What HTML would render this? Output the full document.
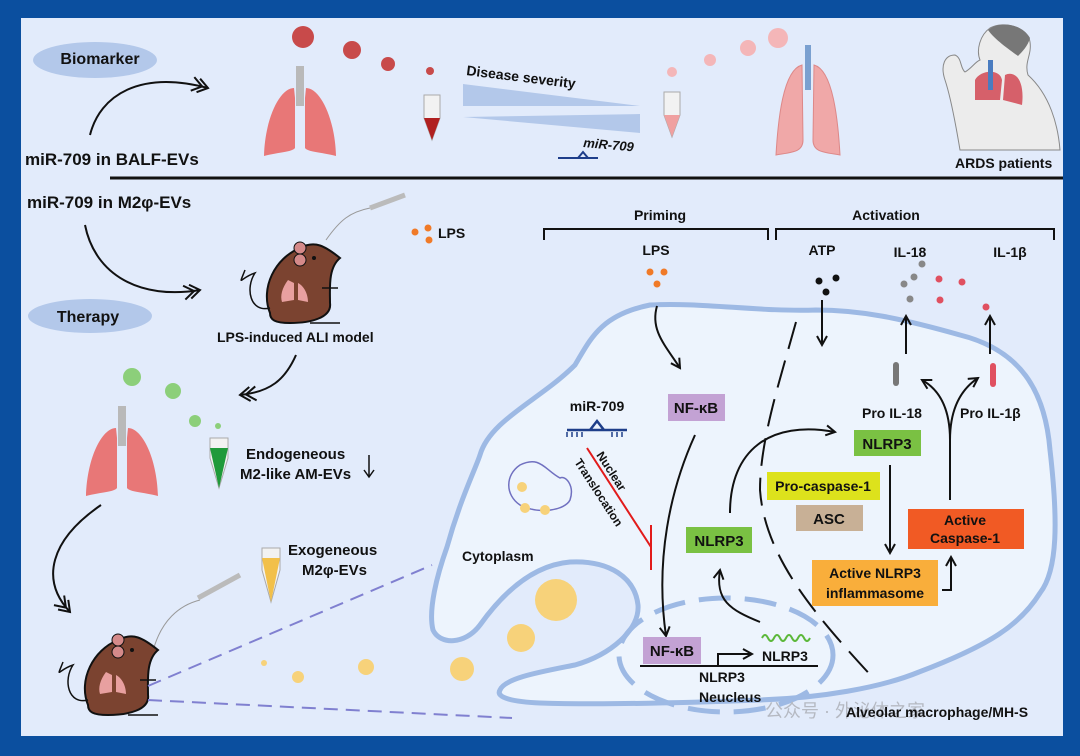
<!DOCTYPE html>
<html><head><meta charset="utf-8"><style>
html,body{margin:0;padding:0;background:#0b4f9f;}
svg{display:block;}
text{font-family:"Liberation Sans","Noto Sans CJK SC",sans-serif;font-weight:bold;fill:#111;}
</style></head><body>
<svg width="1080" height="756" viewBox="0 0 1080 756" xmlns="http://www.w3.org/2000/svg">
<defs>
<marker id="ah" viewBox="0 0 12 12" refX="10" refY="6" markerWidth="12" markerHeight="12" markerUnits="userSpaceOnUse" orient="auto"><path d="M1,1 L10,6 L1,11" fill="none" stroke="#111" stroke-width="2"/></marker>
<marker id="dh" viewBox="0 0 20 16" refX="18" refY="8" markerWidth="20" markerHeight="16" markerUnits="userSpaceOnUse" orient="auto"><path d="M2,1 L12,8 L2,15 M8,1 L18,8 L8,15" fill="none" stroke="#111" stroke-width="2"/></marker>
<g id="lung">
<rect x="-4" y="-42" width="8" height="40" fill="#b9b9b9"/>
<path d="M-6,-20 C-20,-20 -35,10 -36,48 C-20,44 -8,44 -5,40 L-5,-10 Z" fill="#e87777"/>
<path d="M6,-20 C20,-20 35,10 36,48 C20,44 8,44 5,40 L5,-10 Z" fill="#e87777"/>
</g>
<g id="mouse">
<path d="M-30,35 C-40,10 -25,-20 0,-30 C15,-38 25,-32 40,-20 C28,-10 30,10 30,25 C32,40 10,45 -10,45 C-25,45 -30,42 -30,35 Z" fill="#7b4330" stroke="#111" stroke-width="2"/>
<circle cx="0" cy="-30" r="6" fill="#d58a8a" stroke="#111"/><circle cx="0" cy="-18" r="6" fill="#d58a8a" stroke="#111"/>
<circle cx="14" cy="-20" r="2" fill="#111"/>
<path d="M-30,30 C-50,35 -55,10 -45,-5 C-60,0 -62,10 -55,-8" fill="none" stroke="#111" stroke-width="1.5"/>
<path d="M-12,2 C-18,10 -20,18 -18,24 L-6,22 L-6,5 Z M-2,5 L-2,22 L8,24 C8,16 4,8 -2,5 Z" fill="#e8a0a0"/>
<line x1="22" y1="10" x2="38" y2="10" stroke="#111" stroke-width="1.5"/>
<line x1="10" y1="45" x2="40" y2="45" stroke="#111" stroke-width="1.5"/>
</g>
</defs>
<rect x="21" y="18" width="1042" height="718" fill="#e2ebfb"/>

<!-- top section -->
<ellipse cx="95" cy="60" rx="62" ry="18" fill="#b3c8ea"/>
<text x="100" y="64" font-size="16" text-anchor="middle">Biomarker</text>
<path d="M90,135 C100,95 140,70 208,88" fill="none" stroke="#111" stroke-width="2" marker-end="url(#dh)"/>
<text x="25" y="165" font-size="17">miR-709 in BALF-EVs</text>
<line x1="110" y1="178" x2="1063" y2="178" stroke="#111" stroke-width="3"/>
<text x="27" y="208" font-size="17">miR-709 in M2φ-EVs</text>
<use href="#lung" x="300" y="108"/>
<circle cx="303" cy="37" r="11" fill="#c84a4a"/><circle cx="352" cy="50" r="9" fill="#c84a4a"/><circle cx="388" cy="64" r="7" fill="#c84a4a"/><circle cx="430" cy="71" r="4" fill="#c84a4a"/>
<path d="M424,95 L440,95 L440,118 L432,140 L424,118 Z" fill="#f2f2f2" stroke="#aaa"/><path d="M424,118 L440,118 L432,140 Z" fill="#b02020"/>
<text x="466" y="75" font-size="14" transform="rotate(7 466 75)">Disease severity</text>
<path d="M463,84 L463,106 L640,106 Z" fill="#b3c8ea"/>
<path d="M463,117 L640,114 L640,133 Z" fill="#b3c8ea"/>
<text x="583" y="147" font-size="13" font-style="italic" transform="rotate(5 583 147)">miR-709</text>
<path d="M558,158 L598,158 M578,158 L583,152 L588,158" stroke="#1e3e8a" stroke-width="2" fill="none"/>
<circle cx="672" cy="72" r="5" fill="#f4b6b8"/><circle cx="710" cy="60" r="6" fill="#f4b6b8"/><circle cx="748" cy="48" r="8" fill="#f4b6b8"/><circle cx="778" cy="38" r="10" fill="#f4b6b8"/>
<path d="M664,92 L680,92 L680,115 L672,137 L664,115 Z" fill="#f2f2f2" stroke="#aaa"/><path d="M664,115 L680,115 L672,137 Z" fill="#f0a0a0"/>
<g transform="translate(808,110)"><rect x="-3" y="-65" width="6" height="45" fill="#7aa0d0"/><path d="M-6,-45 C-25,-40 -30,10 -32,45 C-15,42 -5,42 -5,30 Z" fill="#f0a8a8" stroke="#d88"/><path d="M6,-45 C25,-40 30,10 32,45 C15,42 5,42 5,30 Z" fill="#f0a8a8" stroke="#d88"/></g>
<!-- person -->
<path d="M960,150 C955,120 950,95 945,80 C940,65 945,55 955,55 C962,58 960,68 965,72 C972,68 975,62 980,60 C976,50 980,35 990,28 C1005,20 1028,28 1030,42 C1032,55 1024,62 1028,75 C1050,95 1058,125 1060,150 Z" fill="#ececec" stroke="#888"/>
<path d="M988,30 C1000,20 1022,24 1030,38 C1028,46 1022,52 1018,56 C1010,50 995,40 988,30 Z" fill="#777"/>
<path d="M975,80 C980,70 1000,68 1002,80 L1000,100 L975,100 Z M1005,75 C1015,70 1025,80 1022,105 L1003,100 Z" fill="#d6606a"/>
<rect x="988" y="60" width="5" height="30" fill="#4a7cc0"/>
<text x="955" y="168" font-size="14">ARDS patients</text>

<!-- bottom left -->
<path d="M85,225 C95,275 140,300 200,290" fill="none" stroke="#111" stroke-width="2" marker-end="url(#dh)"/>
<ellipse cx="90" cy="316" rx="62" ry="17" fill="#b3c8ea"/>
<text x="88" y="322" font-size="16" text-anchor="middle">Therapy</text>
<use href="#mouse" x="300" y="278"/>
<path d="M326,240 C340,220 350,212 370,208" fill="none" stroke="#999"/><path d="M370,208 L405,195" stroke="#bbb" stroke-width="5"/>
<circle cx="415" cy="232" r="3.5" fill="#f07a28"/><circle cx="428" cy="228" r="3.5" fill="#f07a28"/><circle cx="429" cy="240" r="3.5" fill="#f07a28"/>
<text x="438" y="238" font-size="14">LPS</text>
<text x="217" y="342" font-size="14">LPS-induced ALI model</text>
<path d="M296,355 C285,380 270,392 240,395" fill="none" stroke="#111" stroke-width="2" marker-end="url(#dh)"/>
<circle cx="132" cy="377" r="9" fill="#8ccf7a"/><circle cx="173" cy="391" r="8" fill="#8ccf7a"/><circle cx="195" cy="421" r="6" fill="#8ccf7a"/><circle cx="218" cy="426" r="3" fill="#8ccf7a"/>
<use href="#lung" x="122" y="448"/>
<path d="M210,438 L228,438 L228,458 L219,488 L210,458 Z" fill="#f2f2f2" stroke="#aaa"/><path d="M210,448 L228,448 L219,488 Z" fill="#1f9a3a"/>
<text x="246" y="459" font-size="15">Endogeneous</text>
<text x="240" y="479" font-size="15">M2-like AM-EVs</text>
<path d="M369,455 L369,476 M364,470 L369,477 L374,470" stroke="#111" stroke-width="1.5" fill="none"/>
<path d="M101,505 C50,540 40,580 70,612" fill="none" stroke="#111" stroke-width="2" marker-end="url(#dh)"/>
<path d="M262,548 L280,548 L280,570 L271,602 L262,570 Z" fill="#f2f2f2" stroke="#aaa"/><path d="M262,558 L280,558 L271,602 Z" fill="#f2c04a"/>
<text x="288" y="555" font-size="15">Exogeneous</text>
<text x="302" y="575" font-size="15">M2φ-EVs</text>
<path d="M152,655 C160,620 180,605 200,600" fill="none" stroke="#999"/><path d="M198,598 L240,575" stroke="#bbb" stroke-width="5"/>
<use href="#mouse" x="118" y="670"/>
<path d="M148,686 L432,565 M148,700 L512,718" stroke="#8080d0" stroke-width="2" stroke-dasharray="14 8" fill="none"/>
<circle cx="264" cy="663" r="3" fill="#f7d27a"/><circle cx="298" cy="677" r="6" fill="#f7d27a"/><circle cx="366" cy="667" r="8" fill="#f7d27a"/><circle cx="462" cy="669" r="12" fill="#f7d27a"/><circle cx="521" cy="638" r="14" fill="#f7d27a"/><circle cx="556" cy="600" r="21" fill="#f7d27a"/>

<!-- Priming/Activation -->
<text x="660" y="220" font-size="14" text-anchor="middle">Priming</text>
<text x="886" y="220" font-size="14" text-anchor="middle">Activation</text>
<path d="M544,240 L544,229 L768,229 L768,240 M776,240 L776,229 L1054,229 L1054,240" fill="none" stroke="#111" stroke-width="2"/>
<text x="656" y="255" font-size="14" text-anchor="middle">LPS</text>
<text x="822" y="255" font-size="14" text-anchor="middle">ATP</text>
<text x="910" y="257" font-size="14" text-anchor="middle">IL-18</text>
<text x="1010" y="257" font-size="14" text-anchor="middle">IL-1β</text>
<circle cx="650" cy="272" r="3.5" fill="#f07a28"/><circle cx="664" cy="272" r="3.5" fill="#f07a28"/><circle cx="657" cy="284" r="3.5" fill="#f07a28"/>
<circle cx="819" cy="281" r="3.5" fill="#111"/><circle cx="836" cy="278" r="3.5" fill="#111"/><circle cx="826" cy="292" r="3.5" fill="#111"/>
<circle cx="904" cy="284" r="3.5" fill="#888"/><circle cx="914" cy="277" r="3.5" fill="#888"/><circle cx="922" cy="264" r="3.5" fill="#888"/><circle cx="910" cy="299" r="3.5" fill="#888"/>
<circle cx="939" cy="279" r="3.5" fill="#e05060"/><circle cx="962" cy="282" r="3.5" fill="#e05060"/><circle cx="940" cy="300" r="3.5" fill="#e05060"/><circle cx="986" cy="307" r="3.5" fill="#e05060"/>

<!-- cell -->
<path d="M447,547 C460,500 475,470 480,455 C490,420 540,400 575,365 C590,340 600,315 650,305 C700,302 760,312 816,310 C860,310 900,318 960,335 C1020,350 1045,390 1050,450 C1058,520 1058,570 1040,593 C1020,625 990,645 919,672 C880,688 820,698 760,700 C680,703 600,705 540,703 C515,702 495,698 500,690 C505,678 540,672 575,665 C610,655 640,630 638,605 C635,578 610,560 570,562 C535,565 505,590 480,625 C465,645 440,645 433,630 C428,610 437,575 447,547 Z" fill="#edf4fd" stroke="#9db9e4" stroke-width="5"/>
<ellipse cx="726" cy="655" rx="107" ry="57" fill="none" stroke="#9db9e4" stroke-width="5" stroke-dasharray="32 14"/>
<path d="M796,322 C780,380 760,440 760,490 C765,560 820,620 875,680" fill="none" stroke="#111" stroke-width="2" stroke-dasharray="28 12"/>
<text x="462" y="561" font-size="14">Cytoplasm</text>
<path d="M560,478 C545,470 540,455 520,465 C505,475 505,495 520,505 C540,515 565,510 570,500 C575,485 565,475 560,478 Z" fill="none" stroke="#7070c0" stroke-width="1.5"/>
<circle cx="522" cy="487" r="5" fill="#f7d27a"/><circle cx="525" cy="508" r="5" fill="#f7d27a"/><circle cx="545" cy="510" r="5" fill="#f7d27a"/>

<text x="597" y="411" font-size="14" text-anchor="middle">miR-709</text>
<path d="M567,430 L627,430 M590,430 L597,421 L604,430" stroke="#1e3e8a" stroke-width="2.5" fill="none"/>
<path d="M567,432 v5 M572,432 v5 M577,432 v5 M582,432 v5 M612,432 v5 M617,432 v5 M622,432 v5" stroke="#1e3e8a" stroke-width="1.5"/>
<path d="M587,448 L651,547 M651,525 L651,570" stroke="#e21b1b" stroke-width="2" fill="none"/>
<text font-size="12" transform="translate(596,455) rotate(57)">Nuclear</text>
<text font-size="12" transform="translate(574,462) rotate(57)">Translocation</text>

<path d="M657,306 C650,330 665,345 680,368" fill="none" stroke="#111" stroke-width="2" marker-end="url(#ah)"/>
<rect x="668" y="394" width="57" height="27" fill="#c3a2d4"/>
<text x="696" y="413" font-size="15" text-anchor="middle">NF-κB</text>
<path d="M695,435 C670,490 655,560 666,636" fill="none" stroke="#111" stroke-width="2" marker-end="url(#ah)"/>
<rect x="643" y="637" width="58" height="27" fill="#c3a2d4"/>
<text x="672" y="656" font-size="15" text-anchor="middle">NF-κB</text>
<path d="M640,666 L818,666" stroke="#111" stroke-width="2"/>
<path d="M718,666 L718,654 L752,654" fill="none" stroke="#111" stroke-width="2" marker-end="url(#ah)"/>
<path d="M762,638 q3,-6 6,0 q3,6 6,0 q3,-6 6,0 q3,6 6,0 q3,-6 6,0 q3,6 6,0 q3,-6 6,0 q3,6 6,0" fill="none" stroke="#5cb83a" stroke-width="2"/>
<text x="762" y="661" font-size="14">NLRP3</text>
<text x="699" y="682" font-size="14">NLRP3</text>
<text x="699" y="702" font-size="14">Neucleus</text>
<path d="M760,622 C730,610 715,600 720,570" fill="none" stroke="#111" stroke-width="2" marker-end="url(#ah)"/>
<rect x="686" y="527" width="66" height="26" fill="#7ac143"/>
<text x="719" y="546" font-size="15" text-anchor="middle">NLRP3</text>
<path d="M730,513 C730,450 770,420 835,432" fill="none" stroke="#111" stroke-width="2" marker-end="url(#ah)"/>
<rect x="854" y="430" width="67" height="26" fill="#7ac143"/>
<text x="887" y="449" font-size="15" text-anchor="middle">NLRP3</text>
<rect x="767" y="472" width="113" height="28" fill="#dde21c"/>
<text x="823" y="491" font-size="14" text-anchor="middle">Pro-caspase-1</text>
<rect x="796" y="505" width="67" height="26" fill="#c8b096"/>
<text x="829" y="524" font-size="15" text-anchor="middle">ASC</text>
<path d="M890,465 L890,553" stroke="#111" stroke-width="2" marker-end="url(#ah)"/>
<rect x="812" y="560" width="126" height="46" fill="#f9ae3b"/>
<text x="875" y="578" font-size="14" text-anchor="middle">Active NLRP3</text>
<text x="875" y="598" font-size="14" text-anchor="middle">inflammasome</text>
<path d="M942,590 L951,590 L951,557" fill="none" stroke="#111" stroke-width="2" marker-end="url(#ah)"/>
<rect x="908" y="509" width="116" height="40" fill="#f15a24"/>
<text x="965" y="525" font-size="14" text-anchor="middle">Active</text>
<text x="965" y="543" font-size="14" text-anchor="middle">Caspase-1</text>
<path d="M950,500 L950,440 C950,410 940,390 922,380" fill="none" stroke="#111" stroke-width="2" marker-end="url(#ah)"/>
<path d="M950,440 C950,410 960,390 978,378" fill="none" stroke="#111" stroke-width="2" marker-end="url(#ah)"/>
<rect x="893" y="362" width="6" height="24" rx="3" fill="#777"/>
<rect x="990" y="363" width="6" height="24" rx="3" fill="#e05060"/>
<text x="862" y="418" font-size="14">Pro IL-18</text>
<text x="960" y="418" font-size="14">Pro IL-1β</text>
<path d="M906,354 L906,316" stroke="#111" stroke-width="2" marker-end="url(#ah)"/>
<path d="M990,354 L990,316" stroke="#111" stroke-width="2" marker-end="url(#ah)"/>
<path d="M822,300 L822,345" stroke="#111" stroke-width="2" marker-end="url(#ah)"/>
<text x="765" y="717" font-size="18" style="fill:#b5b9c2;font-weight:normal">公众号 · 外泌体之家</text>
<text x="846" y="717" font-size="14">Alveolar macrophage/MH-S</text>
</svg>
</body></html>
